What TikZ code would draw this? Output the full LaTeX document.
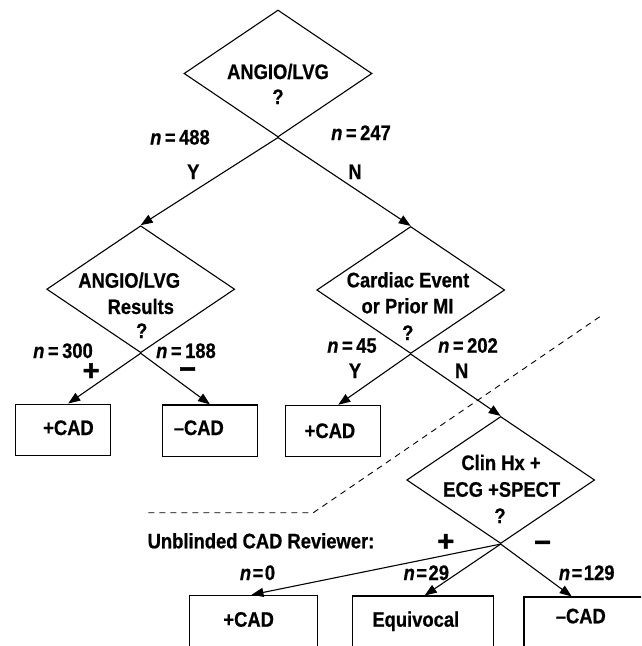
\documentclass[tikz,border=0pt]{standalone}
\usepackage{fontspec}
\setmainfont{Liberation Sans}[FakeStretch=0.875, FakeBold=0.6]
\newfontfamily\signfont{Liberation Sans}[FakeBold=1.5]
\usetikzlibrary{shapes.geometric,arrows.meta,calc}
\tikzset{
  dia/.style={draw, shape=diamond, minimum width=188pt, minimum height=127pt, inner sep=0pt, line width=1.1pt},
  boxnode/.style={draw, rectangle, inner sep=0pt, line width=1.1pt},
  txt/.style={anchor=base, inner sep=0pt, font=\fontsize{21}{24}\selectfont\bfseries},
  sign/.style={anchor=base, inner sep=0pt, text height=11pt, text depth=0pt, font=\signfont\fontsize{29}{29}\selectfont\bfseries},
  conn/.style={line width=1.1pt, -{Triangle[length=12pt,width=9pt]}},
  dashline/.style={line width=0.9pt, dash pattern=on 6pt off 5pt}
}
\begin{document}
\begin{tikzpicture}[x=1pt,y=-1pt]
\useasboundingbox (0,0) rectangle (641,646);
\clip (0,0) rectangle (641,646);
% diamonds
\node[dia] (d1) at (278,73.5) {};
\node[dia] (d2) at (140.7,289.2) {};
\node[dia] (d3) at (410.7,290) {};
\node[dia] (d4) at (500.7,480) {};
% boxes
\node[boxnode, minimum width=95pt, minimum height=51.3pt] (b1) at (63.2,429.7) {};
\node[boxnode, minimum width=95.4pt, minimum height=51.7pt] (b2) at (210,430.8) {};
\node[boxnode, minimum width=95.4pt, minimum height=51.4pt] (b3) at (333,431) {};
\node[boxnode, minimum width=128.4pt, minimum height=74.7pt] (b4) at (253.5,632.7) {};
\node[boxnode, minimum width=141.3pt, minimum height=74pt] (b5) at (422.7,633) {};
\node[boxnode, minimum width=131pt, minimum height=73pt] (b6) at (589.5,633.5) {};
% connectors
\draw[conn] (d1.south) -- (d2.north);
\draw[conn] (d1.south) -- (d3.north);
\draw[conn] (d2.south) -- ([xshift=5pt]b1.north);
\draw[conn] (d2.south) -- (b2.north);
\draw[conn] (d3.south) -- ([xshift=5.3pt]b3.north);
\draw[conn] (d3.south) -- (d4.north);
\draw[conn] (d4.south) -- ([xshift=-2pt]b4.north);
\draw[conn] (d4.south) -- ([xshift=2pt]b5.north);
\draw[conn] (d4.south) -- ([xshift=-17.8pt]b6.north);
% dashed divider
\coordinate (dA) at (148.3,512.7);
\coordinate (dB) at (313.3,512.7);
\coordinate (dC) at (603.3,314.3);
\draw[dashline] (dA) -- (dB) -- (dC);
% texts: top diamond
\node[txt] (t1a) at (278,79) {ANGIO/LVG};
\node[txt] (t1b) at (278,104) {?};
\node[txt] (n488) at (180,144.5) {\textit{n}\,=\,488};
\node[txt] (n247) at (361,140) {\textit{n}\,=\,247};
\node[txt] (y1) at (193.3,179) {Y};
\node[txt] (nn1) at (355,179) {N};
% left diamond
\node[txt] (t2a) at (129.2,287.7) {ANGIO/LVG};
\node[txt] (t2b) at (140.8,314) {Results};
\node[txt] (t2c) at (141.7,338) {?};
\node[txt] (n300) at (63,358) {\textit{n}\,=\,300};
\node[txt] (n188) at (186,358) {\textit{n}\,=\,188};
\node[sign] (p1) at (91,380.3) {+};
\node[sign] (m1) at (187.7,378.6) {−};
% right diamond
\node[txt] (t3a) at (408,287.3) {Cardiac Event};
\node[txt] (t3b) at (407.5,313.3) {or Prior MI};
\node[txt] (t3c) at (407.8,340) {?};
\node[txt] (n45) at (352,352.7) {\textit{n}\,=\,45};
\node[txt] (n202) at (468,352.7) {\textit{n}\,=\,202};
\node[txt] (y2) at (355,378) {Y};
\node[txt] (nn2) at (461.7,378) {N};
% top-row box labels
\node[txt] (c1) at (68.5,435) {+CAD};
\node[txt] (c2) at (198.8,435) {–CAD};
\node[txt] (c3) at (330,438) {+CAD};
% clin diamond
\node[txt] (t4a) at (501,470) {Clin Hx +};
\node[txt] (t4b) at (501.7,496.7) {ECG +SPECT};
\node[txt] (t4c) at (500,523) {?};
\node[txt] (rev) at (261,548.3) {Unblinded CAD Reviewer:};
\node[sign] (p2) at (445.8,551) {+};
\node[sign] (m2) at (542.5,552) {−};
\node[txt] (n0) at (257.5,580) {\textit{n}\hspace{1.5pt}=\hspace{1.5pt}0};
\node[txt] (n29) at (426.3,580) {\textit{n}\hspace{1.5pt}=\hspace{1.5pt}29};
\node[txt] (n129) at (586.7,580) {\textit{n}\hspace{1.5pt}=\hspace{1.5pt}129};
% bottom box labels
\node[txt] (c4) at (248.7,626.7) {+CAD};
\node[txt] (c5) at (415.8,626.7) {Equivocal};
\node[txt] (c6) at (580.8,623.3) {–CAD};
\end{tikzpicture}
\end{document}
